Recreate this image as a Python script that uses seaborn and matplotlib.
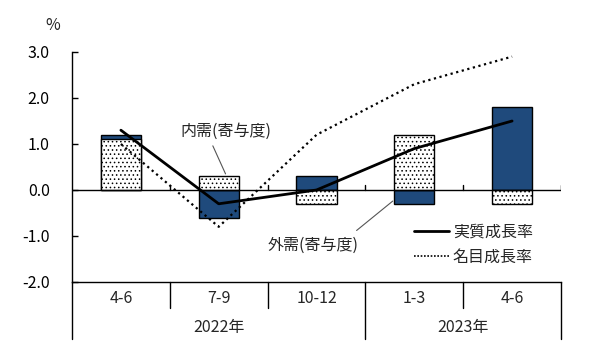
import numpy as np
import pandas as pd
import matplotlib
matplotlib.use("Agg")
import matplotlib.pyplot as plt
import seaborn as sns
from matplotlib.lines import Line2D

# ---- data ----
quarters = ["4-6", "7-9", "10-12", "1-3", "4-6"]
years = ["2022年", "2023年"]
year_spans = [3, 2]
domestic = [1.1, 0.3, -0.3, 1.2, -0.3]      # 内需(寄与度)
external = [0.1, -0.6, 0.3, -0.3, 1.8]      # 外需(寄与度)
real_growth = [1.3, -0.3, 0.0, 0.9, 1.5]     # 実質成長率
nominal_growth = [1.0, -0.8, 1.2, 2.3, 2.9]  # 名目成長率
yticks = [-2.0, -1.0, 0.0, 1.0, 2.0, 3.0]
ytick_labels = ["-2.0", "-1.0", "0.0", "1.0", "2.0", "3.0"]

sns.set_theme(style="white")
plt.rcParams["font.family"] = ["Noto Sans CJK JP", "DejaVu Sans"]
plt.rcParams["hatch.linewidth"] = 0.6

NAVY = "#1f4a7c"
FS = 11.5

fig = plt.figure(figsize=(6.06, 3.61), dpi=100)
ax = fig.add_axes([72 / 606, 1 - 282 / 361, 489 / 606, 230 / 361])

idx = [f"q{i}" for i in range(len(quarters))]
# navy layer: stacked on domestic when same sign
navy = [d + e if d * e > 0 else e for d, e in zip(domestic, external)]
df = pd.DataFrame({"pos": idx, "navy": navy, "dom": domestic})

sns.barplot(data=df, x="pos", y="navy", color=NAVY, saturation=1, width=0.41,
            edgecolor="black", linewidth=1.0, ax=ax, zorder=2)
sns.barplot(data=df, x="pos", y="dom", color="white", saturation=1, width=0.41,
            edgecolor="black", linewidth=1.0, hatch="....", ax=ax, zorder=3)

xs = np.arange(len(quarters))
ld = pd.DataFrame({"x": xs, "real": real_growth, "nom": nominal_growth})
sns.lineplot(data=ld, x="x", y="real", color="black", lw=2.0, ax=ax, zorder=5)
sns.lineplot(data=ld, x="x", y="nom", color="black", lw=1.6, ax=ax, zorder=4,
             linestyle=(0, (1, 1.6)))

ax.set_xlim(-0.5, len(quarters) - 0.5)
ax.set_ylim(-2, 3)
ax.set_xlabel("")
ax.set_ylabel("")
ax.set_xticks([])
ax.set_yticks(yticks)
ax.set_yticklabels(ytick_labels, fontsize=FS)
ax.tick_params(axis="y", direction="in", length=4, width=1, pad=16, left=True, colors="black")
for s in ["top", "right"]:
    ax.spines[s].set_visible(False)
for s in ["left", "bottom"]:
    ax.spines[s].set_color("black")
    ax.spines[s].set_linewidth(1)

# zero line + boundary ticks
ax.axhline(0, color="black", lw=1, zorder=6)
bounds = np.arange(len(quarters) + 1) - 0.5
for b in bounds[1:]:
    ax.plot([b, b], [0, 0.11], color="black", lw=1, zorder=6)

# category table below
tr = ax.get_xaxis_transform()
cum = np.cumsum([0] + year_spans)
for i, b in enumerate(bounds):
    low = -0.248 if i in cum else -0.113
    ax.plot([b, b], [0, low], color="black", lw=1, transform=tr, clip_on=False)
for i, q in enumerate(quarters):
    ax.text(i, -0.07, q, transform=tr, ha="center", va="center", fontsize=FS)
start = 0
for y, span in zip(years, year_spans):
    c = start + span / 2 - 0.5
    ax.text(c, -0.196, y, transform=tr, ha="center", va="center", fontsize=FS)
    start += span

# annotations
ax.text(1.075, 1.28, "内需(寄与度)", ha="center", va="center", fontsize=FS)
ax.plot([0.94, 1.07], [0.96, 0.35], color="#555555", lw=0.8)
ax.text(1.97, -1.2, "外需(寄与度)", ha="center", va="center", fontsize=FS)
ax.plot([2.41, 2.78], [-0.88, -0.24], color="#555555", lw=0.8)

handles = [Line2D([], [], color="black", lw=2.0),
           Line2D([], [], color="black", lw=1.2, linestyle=(0, (1, 1)))]
ax.legend(handles, ["実質成長率", "名目成長率"], loc="upper left",
          bbox_to_anchor=(0.699, 0.255), frameon=False, fontsize=FS,
          handlelength=2.2, handletextpad=0.25, labelspacing=0.5,
          borderpad=0, borderaxespad=0)

fig.text(53 / 606, 1 - 26 / 361, "%", ha="center", va="center", fontsize=FS)

fig.savefig("out.png", dpi=100, facecolor="white")
